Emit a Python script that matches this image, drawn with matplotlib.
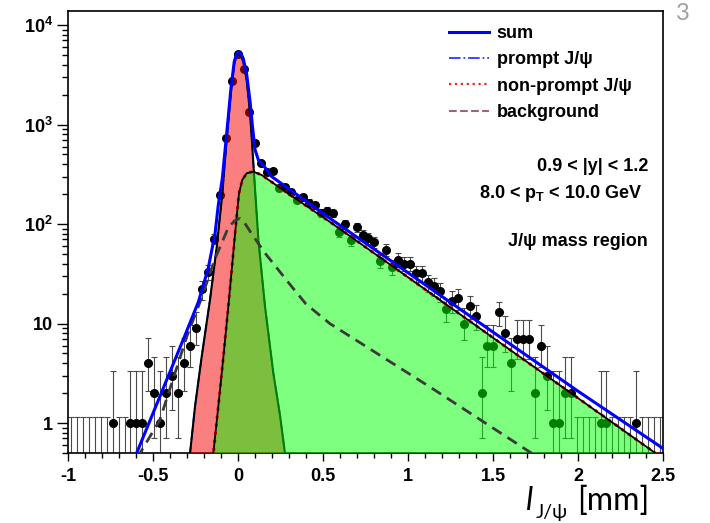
import numpy as np
import matplotlib
matplotlib.use("Agg")
import matplotlib.pyplot as plt
from matplotlib.lines import Line2D
from matplotlib.ticker import MultipleLocator, LogLocator, NullFormatter

plt.rcParams['font.family'] = ['Liberation Sans', 'DejaVu Sans']
plt.rcParams['font.weight'] = 'bold'
plt.rcParams['mathtext.fontset'] = 'custom'
plt.rcParams['mathtext.rm'] = 'Liberation Sans:bold'
plt.rcParams['mathtext.bf'] = 'Liberation Sans:bold'
plt.rcParams['mathtext.default'] = 'bf'

# pseudo-proper decay length histogram, 100 bins over [-1, 2.5] mm
x_lo, x_hi, n_bins = -1.0, 2.5, 100
counts = [0, 0, 0, 0, 0, 0, 0, 1, 0, 0,
          1, 1, 1, 4, 2, 1, 2, 3, 2, 4,
          6, 9, 22, 33, 71, 195, 725, 2750, 5150, 3590,
          1350, 646, 410, 330, 344, 229, 237, 211, 174, 188,
          164, 155, 130, 136, 128, 84, 100, 69, 93, 78,
          72, 66, 43, 55, 37, 44, 40, 40, 32, 32,
          26, 24, 21, 14, 17, 18, 10, 15, 12, 2,
          6, 6, 13, 8, 4, 7, 7, 7, 2, 6,
          3, 1, 1, 2, 2, 0, 0, 0, 0, 1,
          1, 0, 0, 0, 0, 1, 0, 0, 0, 0]

# Poisson (Garwood) 68% intervals for small counts
poisson_lo = [0, 0.827, 1.292, 1.633, 1.914, 2.159, 2.380, 2.581, 2.768, 2.943, 3.108]
poisson_hi = [1.148, 2.299, 2.637, 2.918, 3.162, 3.382, 3.583, 3.770, 3.945, 4.110, 4.266]

# fit components
prompt_x = [-0.296, -0.282, -0.253, -0.214, -0.165, -0.125, -0.092, -0.067, -0.041, -0.022,
            -0.010, 0.002, 0.018, 0.031, 0.051, 0.071, 0.084, 0.094, 0.120, 0.159,
            0.208, 0.247, 0.276, 0.292]
prompt_y = [0.3, 0.5, 1.46, 4.6, 17.2, 59, 204, 698, 2220, 4120,
            4750, 5100, 4850, 4300, 2800, 1300, 598, 324, 69, 14.8,
            3.16, 1.2, 0.5, 0.3]

nonprompt_x = [-0.159, -0.145, -0.116, -0.086, -0.057, -0.028, -0.008, 0.006, 0.025, 0.051,
               0.090, 0.139, 0.300, 0.541, 1.0, 1.5, 2.0, 2.5]
nonprompt_y = [0.3, 0.5, 1.46, 4.6, 14.8, 50.7, 118, 204, 277, 324,
               336, 311, 200, 105, 29.2, 7.2, 1.78, 0.44]

bkg_x = [-0.629, -0.576, -0.46, -0.30, -0.22, -0.135, -0.057, -0.020, 0.012, 0.040,
         0.080, 0.159, 0.316, 0.40, 0.54, 1.13, 1.71, 1.925]
bkg_y = [0.3, 0.5, 1.07, 7.5, 17, 45, 92, 108, 114, 102,
         80, 51, 23.5, 15.7, 10, 2.3, 0.52, 0.3]

sum_x = [-0.649, -0.596, -0.312, -0.233, -0.175, -0.135, -0.116, -0.092, -0.067, -0.041,
         -0.022, -0.010, 0.002, 0.018, 0.031, 0.051, 0.071, 0.084, 0.100, 0.120,
         0.159, 0.198, 0.335, 0.541, 1.0, 1.5, 2.0, 2.5]
sum_y = [0.3, 0.5, 7.6, 16.5, 36, 80, 155, 290, 800, 2350,
         4300, 5000, 5350, 5150, 4600, 3200, 1700, 1000, 560, 440,
         370, 300, 204, 114, 32.4, 8.2, 2.09, 0.556]

xtick_vals = [-1, -0.5, 0, 0.5, 1, 1.5, 2, 2.5]
xtick_labels = ['-1', '-0.5', '0', '0.5', '1', '1.5', '2', '2.5']
ytick_vals = [1, 10, 100, 1000, 10000]
ytick_labels = ['1', '10', r'$10^{2}$', r'$10^{3}$', r'$10^{4}$']

legend_labels = ['sum', 'prompt J/ψ', 'non-prompt J/ψ', 'background']

fig = plt.figure(figsize=(7.10, 5.23), dpi=100)
ax = fig.add_axes([68 / 710, 1 - 453 / 523, 595 / 710, 442 / 523])
ax.set_yscale('log')

n = np.array(counts, dtype=float)
centers = x_lo + (np.arange(n_bins) + 0.5) * (x_hi - x_lo) / n_bins
lo = np.array([poisson_lo[int(c)] if c <= 10 else np.sqrt(c) for c in n])
hi = np.array([poisson_hi[int(c)] if c <= 10 else np.sqrt(c) for c in n])
y_draw = np.where(n > 0, n, 1e-3)

ax.errorbar(centers, y_draw, yerr=[lo, hi], fmt='none', ecolor='#4a4a4a',
            elinewidth=0.8, capsize=2, capthick=0.8, zorder=2)
filled = n > 0
ax.plot(centers[filled], n[filled], 'o', color='black', ms=5.5, zorder=2.1)

# prompt component
ax.fill_between(prompt_x, prompt_y, 1e-3, color=(0.97, 0.0, 0.0), alpha=0.5, lw=0, zorder=3)
ax.plot(prompt_x, prompt_y, color='blue', ls='-.', lw=1.2, zorder=3.1)
ax.plot(prompt_x, prompt_y, color='black', lw=1.5, zorder=3.2)

# non-prompt component
ax.fill_between(nonprompt_x, nonprompt_y, 1e-3, color=(0.0, 1.0, 0.0), alpha=0.5, lw=0, zorder=4)
ax.plot(nonprompt_x, nonprompt_y, color='red', ls=':', lw=2.2, zorder=4.1)
ax.plot(nonprompt_x, nonprompt_y, color='black', lw=1.3, zorder=4.2)

ax.plot(bkg_x, bkg_y, color='#3a3a3a', ls=(0, (4, 2.5)), lw=2.0, zorder=5)
ax.plot(sum_x, sum_y, color='#0000ff', lw=2.2, zorder=6)

ax.set_xlim(x_lo, x_hi)
ax.set_ylim(0.5, 13830)
ax.set_xticks(xtick_vals)
ax.set_xticklabels(xtick_labels)
ax.set_yticks(ytick_vals)
ax.set_yticklabels(ytick_labels)
ax.xaxis.set_minor_locator(MultipleLocator(0.1))
ax.yaxis.set_minor_locator(LogLocator(base=10, subs=np.arange(2, 10)))
ax.yaxis.set_minor_formatter(NullFormatter())

ax.tick_params(axis='both', which='both', direction='out', width=1.0, labelsize=13,
               top=False, right=False)
ax.tick_params(axis='x', which='major', length=6, pad=4.5)
ax.tick_params(axis='x', which='minor', length=3.5)
ax.tick_params(axis='y', which='major', length=8, pad=3)
ax.tick_params(axis='y', which='minor', length=4.5)
for sp in ax.spines.values():
    sp.set_linewidth(1.2)

handles = [Line2D([], [], color='#0000ff', lw=2.2),
           Line2D([], [], color='#2a3cff', ls='-.', lw=1.3),
           Line2D([], [], color='#ff2020', ls=':', lw=1.6),
           Line2D([], [], color='#a0607f', ls='--', lw=1.5)]
ax.legend(handles, legend_labels, loc='upper left', bbox_to_anchor=(449 / 710, 1 - 25 / 523),
          bbox_transform=fig.transFigure, frameon=False, prop={'size': 13, 'weight': 'bold'},
          handlelength=2.2, handletextpad=0.45, labelspacing=0.52, borderpad=0, borderaxespad=0)

fig.text(648 / 710, 1 - 166.7 / 523, '0.9 < |y| < 1.2', ha='right', va='center', size=13)
fig.text(642 / 710, 1 - 193 / 523, r'8.0 < $\mathbf{p_{T}}$ < 10.0 GeV', ha='right', va='center', size=13)
fig.text(648 / 710, 1 - 241.7 / 523, 'J/ψ mass region', ha='right', va='center', size=13)

# axis title in the slide font
slide_font = ['Lato', 'DejaVu Sans']
fig.text(526 / 710, 1 - 510 / 523, 'l', family=slide_font, style='italic', weight='normal',
         size=23, ha='left', va='baseline')
fig.text(536 / 710, 1 - 518 / 523, 'J/ψ', family=slide_font, weight='normal',
         size=14, ha='left', va='baseline')
fig.text(577 / 710, 1 - 510 / 523, '[mm]', family=slide_font, weight='normal',
         size=23, ha='left', va='baseline')
fig.text(683 / 710, 1 - 13.5 / 523, '3', family=slide_font, weight='normal', color='#a0a0a0',
         size=17, ha='center', va='center')

fig.savefig('out.png', dpi=100)
